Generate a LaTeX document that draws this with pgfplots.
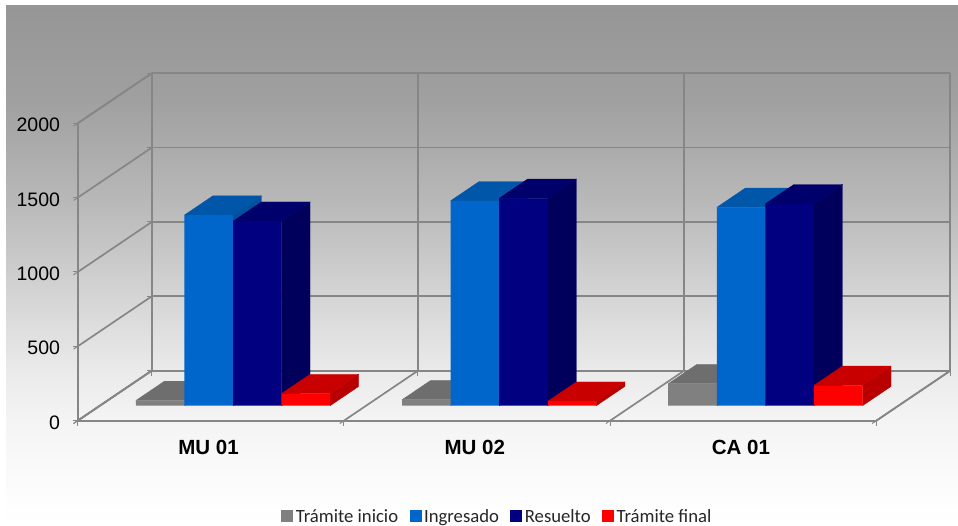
\documentclass[border=0pt]{standalone}
\usepackage{fontspec}
\setmainfont{Liberation Sans}
\newfontfamily\legfont{Carlito}
\usepackage{pgfplots}
\pgfplotsset{compat=1.18}
\definecolor{gridgray}{HTML}{868686}
\definecolor{cgray}{HTML}{808080}
\definecolor{cgrayS}{HTML}{707070}
\definecolor{cgrayT}{HTML}{6E6E6E}
\definecolor{cblue}{HTML}{0066CC}
\definecolor{cblueS}{HTML}{00529F}
\definecolor{cblueT}{HTML}{0056A8}
\definecolor{cnavy}{HTML}{000080}
\definecolor{cnavyS}{HTML}{00005C}
\definecolor{cnavyT}{HTML}{00006C}
\definecolor{cred}{HTML}{FF0000}
\definecolor{credS}{HTML}{B80000}
\definecolor{credT}{HTML}{C80000}
% chart area: grey at the top, white at the bottom
\pgfdeclareverticalshading{chartbg}{100bp}{
  rgb(0bp)=(1,1,1); rgb(25bp)=(1,1,1); rgb(27.5bp)=(.992,.992,.992);
  rgb(35.2bp)=(.957,.957,.957); rgb(40bp)=(.918,.918,.918);
  rgb(46.7bp)=(.839,.839,.839); rgb(56.3bp)=(.722,.722,.722);
  rgb(66bp)=(.627,.627,.627); rgb(75bp)=(.588,.588,.588); rgb(100bp)=(.588,.588,.588)}
% one bar: x from, x to, value, colours of front, side, top
\newcommand{\boxbar}[6]{
  \addplot3[forget plot, draw=#5, line width=.3pt, fill=#5] coordinates {(#2,0.3,0) (#2,0.685,0) (#2,0.685,#3) (#2,0.3,#3) (#2,0.3,0)};
  \addplot3[forget plot, draw=#6, line width=.3pt, fill=#6] coordinates {(#1,0.3,#3) (#2,0.3,#3) (#2,0.685,#3) (#1,0.685,#3) (#1,0.3,#3)};
  \addplot3[forget plot, draw=none, fill=#4] coordinates {(#1,0.3,0) (#2,0.3,0) (#2,0.3,#3) (#1,0.3,#3) (#1,0.3,0)};
}
\newcommand{\tinicio}[3]{\boxbar{#1}{#2}{#3}{cgray}{cgrayS}{cgrayT}}
\newcommand{\ingresado}[3]{\boxbar{#1}{#2}{#3}{cblue}{cblueS}{cblueT}}
\newcommand{\resuelto}[3]{\boxbar{#1}{#2}{#3}{cnavy}{cnavyS}{cnavyT}}
\newcommand{\tfinal}[3]{\boxbar{#1}{#2}{#3}{cred}{credS}{credT}}
\begin{document}
\begin{tikzpicture}[x=1pt,y=1pt]
\useasboundingbox (0,0) rectangle (958,526);
\shade[shading=chartbg] (6,0) rectangle (958,520);
\begin{axis}[
  at={(77.7pt,105.3pt)}, anchor=origin,
  x={(266.2pt,0pt)}, y={(74pt,50pt)}, z={(0pt,0.1487pt)},
  xmin=0, xmax=3, ymin=0, ymax=1, zmin=0, zmax=2000,
  clip=false,
  grid=major,
  grid style={gridgray, line width=1.7pt},
  axis line style={gridgray, line width=1.7pt},
  tick style={gridgray, line width=1pt},
  tick align=outside, major tick length=5pt,
  xtick pos=lower, ztick pos=lower,
  xtick={0,1,2,3}, xticklabels={,,,},
  ytick=\empty,
  ztick={0,500,1000,1500,2000},
  extra x ticks={0.5,1.5,2.5},
  extra x tick labels={MU 01,MU 02,CA 01},
  extra x tick style={
    grid=none, major tick length=0pt,
    xticklabel style={font=\fontsize{20.5}{23}\selectfont\bfseries, xshift=3.5pt, yshift=-16pt}},
  zticklabel style={font=\fontsize{19.5}{22}\selectfont, anchor=east, xshift=-10pt, yshift=1pt,
    /pgf/number format/assume math mode=true,
    /pgf/number format/set thousands separator={}},
  legend columns=4,
  legend style={at={(0.481,-0.276)}, anchor=center, draw=none, fill=none,
    font=\legfont\fontsize{18.7}{20}\selectfont, text=black!85,
    /tikz/every odd column/.append style={column sep=1pt},
    /tikz/every even column/.append style={column sep=9.5pt}},
  legend image code/.code={\fill[#1] (0pt,-5pt) rectangle (11pt,6pt);},
]
\addlegendimage{cgray}\addlegendentry{Trámite inicio}
\addlegendimage{cblue}\addlegendentry{Ingresado}
\addlegendimage{cnavy}\addlegendentry{Resuelto}
\addlegendimage{cred}\addlegendentry{Trámite final}
% MU 01
\tinicio{0.135}{0.3175}{35}
\ingresado{0.3175}{0.5}{1282}
\resuelto{0.5}{0.6825}{1241}
\tfinal{0.6825}{0.865}{82}
% MU 02
\tinicio{1.135}{1.3175}{40}
\ingresado{1.3175}{1.5}{1378}
\resuelto{1.5}{1.6825}{1395}
\tfinal{1.6825}{1.865}{30}
% CA 01
\tinicio{2.135}{2.3175}{148}
\ingresado{2.3175}{2.5}{1334}
\resuelto{2.5}{2.6825}{1358}
\tfinal{2.6825}{2.865}{137}
\end{axis}
\end{tikzpicture}
\end{document}
